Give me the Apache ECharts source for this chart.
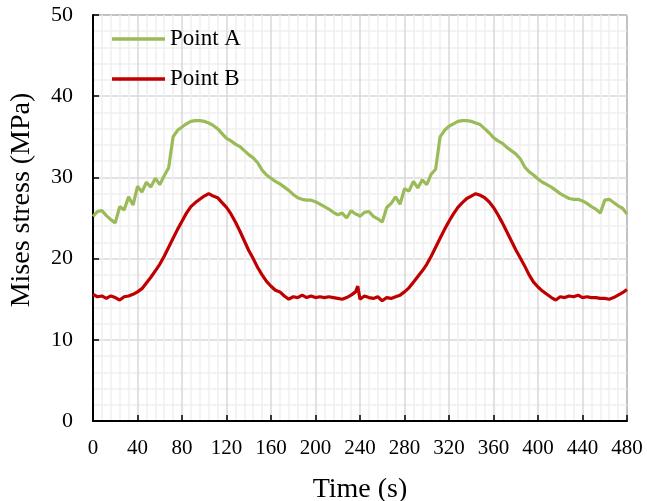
<!DOCTYPE html>
<html>
<head>
<meta charset="utf-8">
<script src="https://cdn.jsdelivr.net/npm/echarts@6/dist/echarts.min.js"></script>
<style>html,body{margin:0;padding:0;background:#fff}#c{width:647px;height:501px}</style>
</head>
<body>
<div id="c"></div>
<script>
var times = [0,4,8,12,16,20,24,28,32,36,40,44,48,52,56,60,64,68,72,76,80,84,88,92,96,100,104,108,112,116,120,124,128,132,136,140,144,148,152,156,160,164,168,172,176,180,184,188,192,196,200,204,208,212,216,220,224,228,232,236,238,240,244,248,252,256,260,264,268,272,276,280,284,288,292,296,300,304,308,312,316,320,324,328,332,336,340,344,348,352,356,360,364,368,372,376,380,384,388,392,396,400,404,408,412,416,420,424,428,432,436,440,444,448,452,456,460,464,468,472,476,480];
var pointA = [25.2,25.8,25.9,25.3,24.8,24.4,26.4,26.0,27.6,26.6,28.9,28.2,29.4,28.8,29.9,29.1,30.2,31.2,35.0,35.8,36.2,36.6,36.9,37.0,37.0,36.9,36.7,36.4,36.0,35.4,34.8,34.5,34.1,33.8,33.3,32.8,32.4,31.8,30.9,30.3,29.9,29.5,29.2,28.8,28.4,27.9,27.5,27.3,27.2,27.2,27.0,26.7,26.4,26.1,25.7,25.4,25.6,25.0,25.9,25.5,25.4,25.2,25.7,25.8,25.2,24.9,24.5,26.3,26.8,27.6,26.7,28.6,28.3,29.5,28.7,29.7,29.1,30.4,31.0,35.0,35.8,36.3,36.6,36.9,37.0,37.0,36.9,36.7,36.5,36.0,35.5,34.9,34.5,34.2,33.7,33.3,32.9,32.3,31.3,30.7,30.3,29.8,29.4,29.1,28.8,28.4,28.0,27.7,27.4,27.3,27.3,27.1,26.8,26.4,26.1,25.6,27.2,27.3,26.9,26.5,26.2,25.5];
var pointB = [15.6,15.3,15.4,15.1,15.4,15.2,14.9,15.3,15.4,15.6,15.9,16.3,17.0,17.7,18.5,19.3,20.3,21.4,22.5,23.6,24.6,25.6,26.4,26.9,27.3,27.7,28.0,27.7,27.5,26.9,26.3,25.5,24.5,23.4,22.2,21.0,20.0,18.9,18.0,17.2,16.6,16.1,15.9,15.4,15.0,15.3,15.2,15.5,15.2,15.4,15.2,15.3,15.2,15.3,15.2,15.1,15.0,15.2,15.5,15.9,16.6,15.0,15.4,15.2,15.1,15.3,14.8,15.2,15.1,15.3,15.5,15.9,16.4,17.1,17.8,18.5,19.3,20.3,21.4,22.5,23.6,24.6,25.5,26.3,26.9,27.4,27.7,28.0,27.8,27.5,27.0,26.3,25.4,24.4,23.3,22.2,21.1,20.1,19.1,18.0,17.1,16.5,16.0,15.6,15.2,14.9,15.3,15.2,15.4,15.3,15.5,15.2,15.3,15.2,15.2,15.1,15.1,15.0,15.2,15.5,15.8,16.2];
var seriesNames = ['Point A','Point B'];
var xTitle = 'Time (s)';
var yTitle = 'Mises stress (MPa)';

function pairs(vals){ return times.map(function(t,i){ return [t, vals[i]]; }); }
var font = 'Liberation Serif';
var chart = echarts.init(document.getElementById('c'));
chart.setOption({
  animation:false,
  backgroundColor:'#fff',
  grid:{left:93,right:20,top:15,bottom:80,outerBoundsMode:'none',containLabel:false,show:true,borderColor:'#000',borderWidth:1,backgroundColor:'transparent'},
  legend:{
    orient:'vertical',left:107,top:22,itemWidth:53,itemHeight:3.5,itemGap:16,icon:'rect',
    textStyle:{fontFamily:font,fontSize:23,lineHeight:24,color:'#000'},
    data:seriesNames
  },
  xAxis:{
    type:'value',min:0,max:480,interval:40,
    name:xTitle,nameLocation:'middle',nameGap:55,
    nameTextStyle:{fontFamily:font,fontSize:28,color:'#000'},
    axisLine:{lineStyle:{color:'#000',width:2}},
    axisTick:{inside:true,length:6,lineStyle:{color:'#000',width:1.5}},
    axisLabel:{fontFamily:font,fontSize:21,color:'#000',margin:17},
    splitLine:{show:true,lineStyle:{color:'#d9d9d9',width:1.5}},
    minorTick:{show:false,splitNumber:5},
    minorSplitLine:{show:true,lineStyle:{color:'#efefef',width:1.5}}
  },
  yAxis:{
    type:'value',min:0,max:50,interval:10,
    name:yTitle,nameLocation:'middle',nameGap:57,
    nameTextStyle:{fontFamily:font,fontSize:28,color:'#000',padding:[0,0,0,36]},
    axisLine:{lineStyle:{color:'#000',width:2}},
    axisTick:{inside:true,length:6,lineStyle:{color:'#000',width:1.5}},
    axisLabel:{fontFamily:font,fontSize:22,color:'#000',margin:20},
    splitLine:{show:true,lineStyle:{color:'#d9d9d9',width:1.5}},
    minorTick:{show:false,splitNumber:5},
    minorSplitLine:{show:true,lineStyle:{color:'#efefef',width:1.5}}
  },
  series:[
    {name:seriesNames[0],type:'line',data:pairs(pointA),symbol:'none',color:'#9BBB59',lineStyle:{color:'#9BBB59',width:3.2}},
    {name:seriesNames[1],type:'line',data:pairs(pointB),symbol:'none',color:'#C00000',lineStyle:{color:'#C00000',width:3.2}}
  ]
});
</script>
</body>
</html>
